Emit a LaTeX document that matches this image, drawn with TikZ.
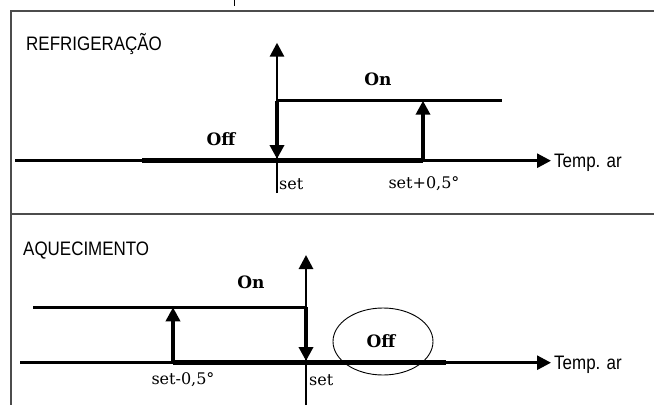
\documentclass[tikz,border=0pt]{standalone}
\usepackage{fontspec}
\usetikzlibrary{arrows.meta,shapes.geometric}
\newfontfamily\labfont[FakeStretch=0.87]{Liberation Sans}
\newfontfamily\serfont{DejaVu Serif}
\tikzset{
  frame/.style={draw=black!70, line width=1.1pt},
  axis/.style={line width=2.8pt, -{Triangle[length=14pt,width=14pt]}},
  plain/.style={line width=2.8pt},
  thickseg/.style={line width=5pt},
  trans/.style={line width=4.4pt, -{Triangle[length=14pt,width=14pt]}},
  title/.style={font=\labfont\fontsize{19.5}{22}\selectfont, inner sep=0pt},
  state/.style={font=\serfont\bfseries\fontsize{17}{19}\selectfont, inner sep=0pt},
  setlab/.style={font=\serfont\fontsize{16}{18}\selectfont, inner sep=0pt},
}
\begin{document}
\begin{tikzpicture}[x=1pt,y=-1pt]
\useasboundingbox[fill=white] (0,0) rectangle (654,405);
% frame
\coordinate (ftl) at (11,11);
\coordinate (ftr) at (654,11);
\coordinate (fbl) at (11,405);
\coordinate (dl) at (11,214);
\coordinate (dr) at (654,214);
\coordinate (tk1) at (234,0);
\coordinate (tk2) at (234,6);
\draw[frame] (ftr) -- (ftl) -- (fbl);
\draw[frame] (dl) -- (dr);
\draw[line width=1pt] (tk1) -- (tk2);

% ---------- top panel: REFRIGERACAO ----------
\node[title, anchor=base west] (t1) at (26,50) {REFRIGERAÇÃO};
\coordinate (a1l) at (15,160.7);
\coordinate (a1r) at (551,160.7);
\coordinate (k1a) at (142,160.7);
\coordinate (k1b) at (423,160.7);
\coordinate (v1b) at (277,193);
\coordinate (v1t) at (277,42.7);
\coordinate (on1a) at (277,100.7);
\coordinate (on1b) at (502,100.7);
\coordinate (up1t) at (423,100.7);
\coordinate (dn1) at (277,159);
\draw[thickseg] (k1a) -- (k1b);
\draw[axis] (a1l) -- (a1r);
\draw[axis] (v1b) -- (v1t);
\draw[plain] (on1a) -- (on1b);
\draw[trans] (k1b) -- (up1t);
\draw[trans] (on1a) -- (dn1);
\node[title, anchor=base west] (tp1) at (554,167) {Temp. ar};
\node[state] (on1) at (378,79) {On};
\node[state] (off1) at (221,139.5) {Off};
\node[setlab, anchor=west] (s1) at (279,184) {set};
\node[setlab] (s1p) at (424,184) {set+0,5°};

% ---------- bottom panel: AQUECIMENTO ----------
\node[title, anchor=base west] (t2) at (23,255) {AQUECIMENTO};
\coordinate (a2l) at (20,362.7);
\coordinate (a2r) at (551,362.7);
\coordinate (k2a) at (173,362.7);
\coordinate (k2b) at (446,362.7);
\coordinate (v2b) at (306,405);
\coordinate (v2t) at (306,255);
\coordinate (on2a) at (33,307.3);
\coordinate (on2b) at (306,307.3);
\coordinate (up2t) at (173,307.3);
\coordinate (dn2) at (306,361);
\draw[thickseg] (k2a) -- (k2b);
\draw[axis] (a2l) -- (a2r);
\draw[axis] (v2b) -- (v2t);
\draw[plain] (on2a) -- (on2b);
\draw[trans] (k2a) -- (up2t);
\draw[trans] (on2b) -- (dn2);
\node[title, anchor=base west] (tp2) at (554,369) {Temp. ar};
\node[state] (on2) at (251,282) {On};
\node[state] (off2) at (381,341) {Off};
\node[draw, line width=0.9pt, ellipse, minimum width=100pt, minimum height=67pt] (el) at (383,341.5) {};
\node[setlab] (s2m) at (183,380) {set-0,5°};
\node[setlab, anchor=west] (s2) at (309,380) {set};
\end{tikzpicture}
\end{document}
